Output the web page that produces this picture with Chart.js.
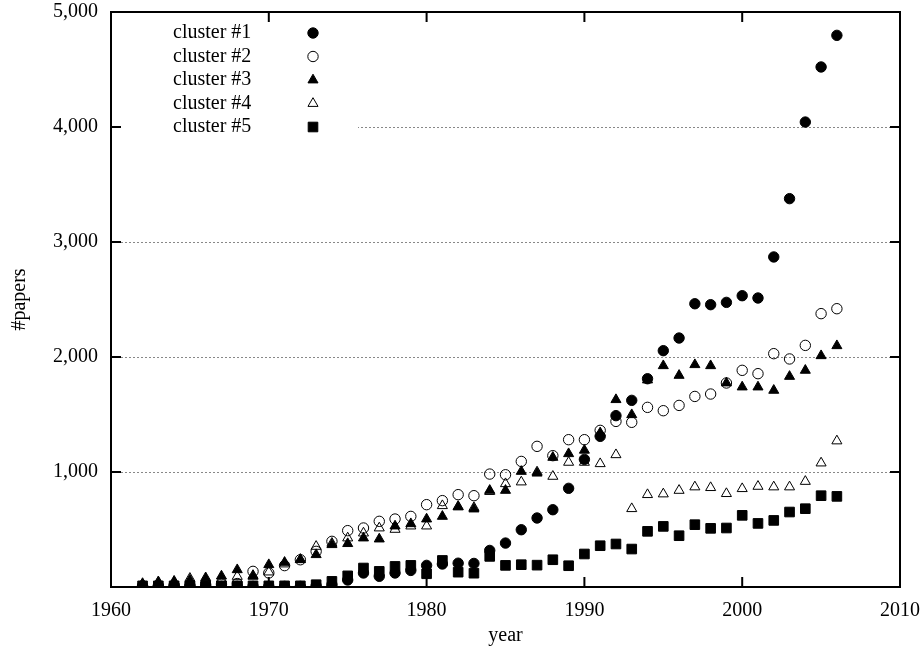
<!DOCTYPE html>
<html>
<head>
<meta charset="utf-8">
<script src="https://cdn.jsdelivr.net/npm/chart.js@4.4.1/dist/chart.umd.min.js"></script>
<style>
  html, body { margin: 0; padding: 0; background: #fff; }
</style>
</head>
<body>
<canvas id="chart" width="924" height="653"></canvas>
<script>
const years = [1962, 1963, 1964, 1965, 1966, 1967, 1968, 1969, 1970, 1971, 1972, 1973, 1974, 1975, 1976,
  1977, 1978, 1979, 1980, 1981, 1982, 1983, 1984, 1985, 1986, 1987, 1988, 1989, 1990, 1991,
  1992, 1993, 1994, 1995, 1996, 1997, 1998, 1999, 2000, 2001, 2002, 2003, 2004, 2005, 2006];

const seriesNames = ['cluster #1', 'cluster #2', 'cluster #3', 'cluster #4', 'cluster #5'];

const cluster1 = [5, 5, 5, 5, 5, 5, 5, 5, 5, 5, 5, 10, 20, 61, 122,
  93, 122, 144, 188, 200, 207, 205, 318, 382, 498, 600, 672, 858, 1110, 1310,
  1490, 1623, 1811, 2055, 2165, 2463, 2455, 2475, 2533, 2513, 2870, 3377, 4043, 4522, 4797];
const cluster2 = [10, 10, 15, 15, 20, 25, 30, 136, 122, 186, 237, 310, 397, 490, 513,
  571, 591, 614, 716, 751, 803, 794, 982, 976, 1092, 1223, 1142, 1281, 1281, 1362,
  1440, 1432, 1562, 1533, 1579, 1657, 1678, 1774, 1884, 1855, 2029, 1983, 2101, 2377, 2420];
const cluster3 = [30, 40, 50, 60, 80, 95, 150, 93, 194, 214, 237, 281, 368, 377, 426,
  417, 530, 550, 591, 614, 696, 678, 840, 840, 1005, 990, 1127, 1159, 1189, 1340,
  1629, 1498, 1800, 1924, 1840, 1933, 1924, 1774, 1739, 1739, 1710, 1831, 1884, 2011, 2098];
const cluster4 = [20, 45, 40, 75, 60, 70, 92, 100, 130, 200, 240, 353, 380, 426, 469,
  513, 501, 530, 530, 707, 700, 690, 830, 898, 913, 1000, 962, 1084, 1084, 1072,
  1150, 681, 803, 809, 840, 870, 864, 812, 855, 875, 870, 870, 918, 1078, 1270];
const cluster5 = [10, 10, 10, 10, 10, 10, 10, 10, 10, 10, 10, 20, 49, 97, 165,
  136, 179, 188, 115, 231, 129, 120, 266, 188, 194, 190, 237, 185, 287, 359,
  374, 330, 484, 527, 446, 542, 510, 513, 623, 553, 579, 652, 681, 794, 788];

const serif = '"Liberation Serif", "Times New Roman", serif';

function points(values) {
    return years.map((year, i) => ({ x: year, y: values[i] }));
}

// gnuplot look: marker styles per cluster
const markers = [
    { pointStyle: 'circle', pointRadius: 5.2, pointBackgroundColor: '#000' },
    { pointStyle: 'circle', pointRadius: 5.2, pointBackgroundColor: 'rgba(0,0,0,0)' },
    { pointStyle: 'triangle', pointRadius: 5.8, pointBackgroundColor: '#000' },
    { pointStyle: 'triangle', pointRadius: 5.8, pointBackgroundColor: 'rgba(0,0,0,0)' },
    { pointStyle: 'rect', pointRadius: 6.8, pointBackgroundColor: '#000' },
];

const allSeries = [cluster1, cluster2, cluster3, cluster4, cluster5];

const datasets = allSeries.map((values, i) => Object.assign({
    label: seriesNames[i],
    data: points(values),
    showLine: false,
    pointBorderColor: '#000',
    pointBorderWidth: 1,
    order: 5 - i,
}, markers[i]));

// frame, inward ticks, dotted grid and the boxed legend
const gnuplotFrame = {
    id: 'gnuplotFrame',
    beforeDatasetsDraw(chart) {
        const { ctx, chartArea: a, scales: { x, y } } = chart;
        ctx.save();

        ctx.strokeStyle = '#888';
        ctx.lineWidth = 1;
        ctx.setLineDash([2, 2]);
        y.ticks.forEach(t => {
            if (t.value <= y.min || t.value >= y.max) return;
            const py = Math.round(y.getPixelForValue(t.value)) + 0.5;
            ctx.beginPath();
            ctx.moveTo(a.left + 10, py);
            ctx.lineTo(a.right - 10, py);
            ctx.stroke();
        });
        ctx.setLineDash([]);

        // opaque legend box hides the grid behind it
        ctx.fillStyle = '#fff';
        ctx.fillRect(a.left + 10, a.top + 2, 237, 132);

        ctx.strokeStyle = '#000';
        ctx.lineWidth = 2;
        ctx.strokeRect(a.left, a.top, a.right - a.left, a.bottom - a.top);

        const tl = 10;
        ctx.beginPath();
        y.ticks.forEach(t => {
            const py = y.getPixelForValue(t.value);
            ctx.moveTo(a.left, py); ctx.lineTo(a.left + tl, py);
            ctx.moveTo(a.right, py); ctx.lineTo(a.right - tl, py);
        });
        x.ticks.forEach(t => {
            const px = x.getPixelForValue(t.value);
            ctx.moveTo(px, a.bottom); ctx.lineTo(px, a.bottom - tl);
            ctx.moveTo(px, a.top); ctx.lineTo(px, a.top + tl);
        });
        ctx.stroke();
        ctx.restore();
    },
    afterDatasetsDraw(chart) {
        const { ctx, chartArea: a } = chart;
        ctx.save();
        ctx.font = '20px ' + serif;
        ctx.textBaseline = 'middle';
        ctx.textAlign = 'left';
        chart.data.datasets.forEach((ds, i) => {
            const ly = a.top + 21 + i * 23.5;
            ctx.fillStyle = '#000';
            ctx.fillText(ds.label, a.left + 62, ly);
            ctx.fillStyle = ds.pointBackgroundColor;
            ctx.strokeStyle = '#000';
            ctx.lineWidth = 1;
            Chart.helpers.drawPoint(ctx, {
                pointStyle: ds.pointStyle,
                radius: ds.pointRadius,
                rotation: 0,
                borderWidth: 1,
            }, a.left + 202, ly);
        });
        ctx.restore();
    },
};

const ctx = document.getElementById('chart').getContext('2d');
new Chart(ctx, {
    type: 'scatter',
    data: { datasets: datasets },
    options: {
        responsive: false,
        animation: false,
        devicePixelRatio: 1,
        layout: { padding: { top: 12, right: 24, left: 0, bottom: 0 } },
        plugins: {
            legend: { display: false },
            tooltip: { enabled: false },
        },
        scales: {
            x: {
                type: 'linear',
                min: 1960,
                max: 2010,
                grid: { display: false, drawTicks: false },
                border: { display: false },
                ticks: {
                    stepSize: 10,
                    padding: 12,
                    color: '#000',
                    font: { family: serif, size: 20 },
                    callback: v => String(v),
                },
                title: {
                    display: true,
                    text: 'year',
                    color: '#000',
                    font: { family: serif, size: 20 },
                    padding: { top: 0, bottom: 5 },
                },
                afterFit: s => {
                    s.height = 66;
                    s.paddingLeft = 0;
                    s.paddingRight = 0;
                },
            },
            y: {
                min: 0,
                max: 5000,
                grid: { display: false, drawTicks: false },
                border: { display: false },
                ticks: {
                    stepSize: 1000,
                    padding: 13,
                    color: '#000',
                    font: { family: serif, size: 20 },
                    callback: v => v === 0 ? '' : v.toLocaleString('en-US'),
                },
                title: {
                    display: true,
                    text: '#papers',
                    color: '#000',
                    font: { family: serif, size: 20 },
                    padding: { top: 8, bottom: 0 },
                },
                afterFit: s => {
                    s.width = 111;
                    s.paddingTop = 0;
                    s.paddingBottom = 0;
                },
            },
        },
    },
    plugins: [gnuplotFrame],
});
</script>
</body>
</html>
